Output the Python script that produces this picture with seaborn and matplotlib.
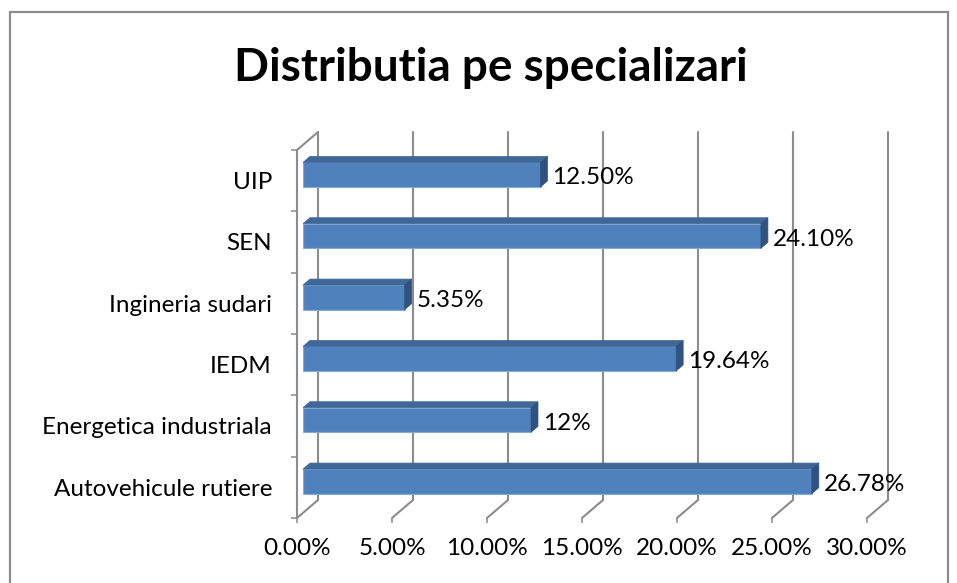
import numpy as np
import pandas as pd
import matplotlib
matplotlib.use('Agg')
import matplotlib.pyplot as plt
from matplotlib.patches import Polygon, Rectangle
from matplotlib.lines import Line2D
from matplotlib.transforms import IdentityTransform, Affine2D
import seaborn as sns

# data ----------
specializari = ['UIP', 'SEN', 'Ingineria sudari', 'IEDM',
                'Energetica industriala', 'Autovehicule rutiere']
procente = [12.50, 24.10, 5.35, 19.64, 12.0, 26.78]
etichete = ['12.50%', '24.10%', '5.35%', '19.64%', '12%', '26.78%']
x_ticks = [0, 5, 10, 15, 20, 25, 30]
x_tick_labels = ['0.00%', '5.00%', '10.00%', '15.00%', '20.00%', '25.00%', '30.00%']
titlu = 'Distributia pe specializari'

# styles ----------
FRONT = '#4F81BD'
TOP = '#3F6899'
SIDE = '#2F5280'
GRID = '#8C8C8C'
BACK = np.array([21, 18])      # depth of the 3d box, pixels
BAR_SHIFT = np.array([6, 6])   # bars sit a bit behind the front plane
BAR_DEPTH = np.array([7, 6])
FS = 17.5

sns.set_theme(style='white')
plt.rcParams['font.family'] = ['Lato', 'DejaVu Sans']

W, H, DPI = 957, 583, 100
fig = plt.figure(figsize=(W / DPI, H / DPI), dpi=DPI)
fig.patch.set_facecolor('white')
ax = fig.add_axes([297 / W, 65 / H, 570 / W, 368 / H])

df = pd.DataFrame({'spec': specializari, 'pct': procente})
sns.barplot(data=df, x='pct', y='spec', orient='h', color=FRONT, width=0.4,
            saturation=1, ax=ax, zorder=3)
ax.set_xlim(0, 30)
ax.set_ylim(len(specializari) - 0.5, -0.5)

for s in ax.spines.values():
    s.set_visible(False)
ax.set_xlabel('')
ax.set_ylabel('')
ax.set_xticks(x_ticks)
ax.set_xticklabels(x_tick_labels)
ax.set_yticks(np.arange(-0.5, len(specializari), 1), minor=True)
ax.tick_params(axis='x', which='major', length=3.6, width=1.1, color=GRID,
               pad=11, labelsize=FS, labelcolor='black', direction='out', bottom=True)
ax.tick_params(axis='y', which='major', length=0, pad=18, labelsize=FS, labelcolor='black')
ax.tick_params(axis='y', which='minor', length=4.3, width=1.1, color=GRID,
               direction='out', left=True)


def px(x, y):
    return ax.transData.transform((x, y))


def seg(p, q, **kw):
    ax.add_line(Line2D([p[0], q[0]], [p[1], q[1]], transform=IdentityTransform(),
                       clip_on=False, color=GRID, lw=1.5, zorder=1, **kw))


ybot, ytop = len(specializari) - 0.5, -0.5

# back wall gridlines + floor diagonals
for t in x_ticks:
    f = px(t, ybot)
    b = f + BACK
    seg(f, b)
    seg(b, px(t, ytop) + BACK)

# left wall
seg(px(0, ybot), px(0, ytop))
seg(px(0, ytop), px(0, ytop) + BACK)

# 3d bars
for patch, lab in zip(ax.patches, etichete):
    x, y, w, h = patch.get_x(), patch.get_y(), patch.get_width(), patch.get_height()
    c1 = px(x, y) + BAR_SHIFT
    c2 = px(x + w, y + h) + BAR_SHIFT
    L, R = min(c1[0], c2[0]), max(c1[0], c2[0])
    B, T = min(c1[1], c2[1]), max(c1[1], c2[1])
    patch.set_transform(ax.transData + Affine2D().translate(*BAR_SHIFT))
    patch.set_clip_on(False)
    patch.set_edgecolor('#86A9D6')
    patch.set_linewidth(0.8)
    dx, dy = BAR_DEPTH
    ax.add_patch(Polygon([(L, T), (R, T), (R + dx, T + dy), (L + dx, T + dy)],
                         closed=True, transform=IdentityTransform(), clip_on=False,
                         facecolor=TOP, edgecolor=TOP, lw=0.5, zorder=3))
    ax.add_patch(Polygon([(R, B), (R, T), (R + dx, T + dy), (R + dx, B + dy)],
                         closed=True, transform=IdentityTransform(), clip_on=False,
                         facecolor=SIDE, edgecolor=SIDE, lw=0.5, zorder=3))
    ax.text(R + dx + 5, (T + B) / 2 - 3, lab, transform=IdentityTransform(),
            ha='left', va='center', fontsize=FS, color='black', zorder=4)

# title and chart border
fig.text(491 / W, 1 - 68 / H, titlu, ha='center', va='center',
         fontsize=33, fontweight='bold', color='black')
fig.add_artist(Rectangle((10 / W, -0.05), (948 - 10) / W, 1.05 - 12 / H,
                         transform=fig.transFigure, fill=False,
                         edgecolor='#8C8C8C', lw=1.6))

fig.savefig('out.png', dpi=DPI)
